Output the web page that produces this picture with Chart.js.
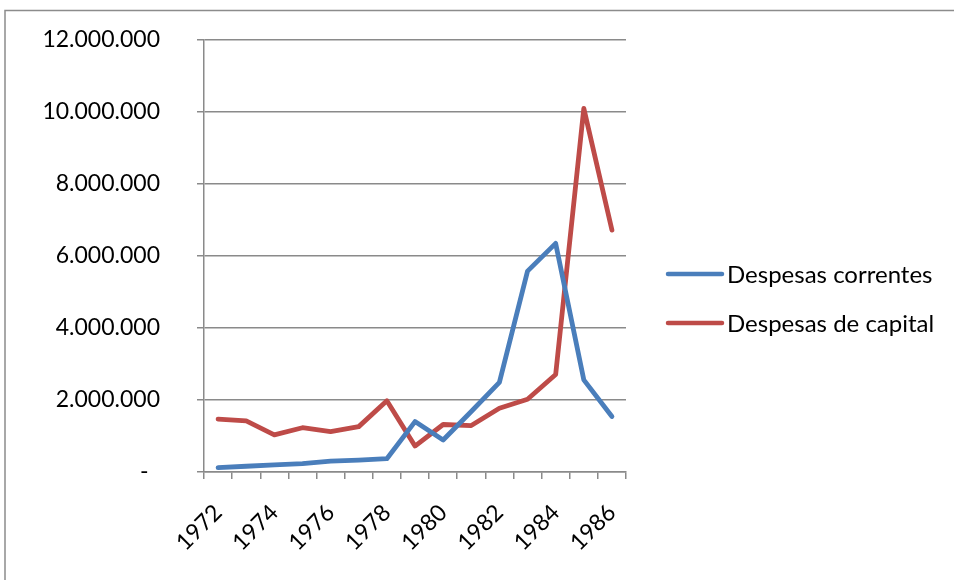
<!DOCTYPE html>
<html>
<head>
<meta charset="utf-8">
<script src="https://cdn.jsdelivr.net/npm/chart.js@4.4.1/dist/chart.umd.min.js"></script>
<style>
  html, body { margin: 0; padding: 0; background: #ffffff; }
  #wrap { width: 954px; height: 580px; position: relative; }
</style>
</head>
<body>
<div id="wrap"><canvas id="chart" width="954" height="580"></canvas></div>
<script>
// Years on the category axis
const years = ['1972', '1973', '1974', '1975', '1976', '1977', '1978', '1979',
               '1980', '1981', '1982', '1983', '1984', '1985', '1986'];

// Series values
const despesasCorrentes = [120000, 160000, 200000, 230000, 300000, 330000, 370000, 1400000,
                           890000, 1680000, 2490000, 5580000, 6350000, 2560000, 1540000];
const despesasCapital = [1470000, 1420000, 1030000, 1230000, 1120000, 1260000, 1980000, 720000,
                         1320000, 1290000, 1770000, 2020000, 2710000, 10100000, 6720000];

// Series names
const seriesNames = ['Despesas correntes', 'Despesas de capital'];

// Value axis range
const yMin = 0;
const yMax = 12000000;
const yStep = 2000000;

const FONT = 'Lato, "Open Sans", sans-serif';
const AXIS_GREY = '#8a8a8a';

function formatThousands(v) {
  if (v === 0) return '-\u2002';
  return Math.round(v).toString().replace(/\B(?=(\d{3})+(?!\d))/g, '.');
}

// White page and the frame around the chart
const framePlugin = {
  id: 'frame',
  beforeDraw(chart) {
    const ctx = chart.ctx;
    ctx.save();
    ctx.fillStyle = '#ffffff';
    ctx.fillRect(0, 0, chart.width, chart.height);
    ctx.strokeStyle = '#8c8c8c';
    ctx.lineWidth = 1.5;
    ctx.strokeRect(5, 10.5, 1000, 700);
    ctx.restore();
  }
};

// Legend on the right: line sample followed by the series name
const sideLegend = {
  id: 'sideLegend',
  afterDraw(chart) {
    const ctx = chart.ctx;
    const x0 = 668, x1 = 722, tx = 727;
    const rows = [274, 323];
    ctx.save();
    chart.data.datasets.forEach((ds, i) => {
      const y = rows[i];
      ctx.strokeStyle = ds.borderColor;
      ctx.lineWidth = 4.5;
      ctx.lineCap = 'round';
      ctx.beginPath();
      ctx.moveTo(x0, y);
      ctx.lineTo(x1, y);
      ctx.stroke();
      ctx.fillStyle = '#000000';
      ctx.font = '24px ' + FONT;
      ctx.textAlign = 'left';
      ctx.textBaseline = 'middle';
      ctx.fillText(ds.label, tx, y + 1);
    });
    ctx.restore();
  }
};

new Chart(document.getElementById('chart'), {
  type: 'line',
  data: {
    labels: years,
    datasets: [
      {
        label: seriesNames[0],
        data: despesasCorrentes,
        borderColor: '#4a7ebb',
        borderWidth: 4.8,
        pointRadius: 0,
        tension: 0,
        borderCapStyle: 'round',
        borderJoinStyle: 'round',
        fill: false
      },
      {
        label: seriesNames[1],
        data: despesasCapital,
        borderColor: '#be4b48',
        borderWidth: 4.8,
        pointRadius: 0,
        tension: 0,
        borderCapStyle: 'round',
        borderJoinStyle: 'round',
        fill: false
      }
    ]
  },
  options: {
    responsive: false,
    animation: false,
    devicePixelRatio: 1,
    layout: { autoPadding: false, padding: { left: 0, right: 328, top: 40, bottom: 0 } },
    plugins: {
      legend: { display: false },
      tooltip: { enabled: false }
    },
    scales: {
      x: {
        type: 'category',
        offset: true,
        afterFit(scale) { scale.height = 108; },
        grid: {
          offset: true,
          drawOnChartArea: false,
          drawTicks: true,
          tickLength: 7,
          color: AXIS_GREY,
          lineWidth: 1.5
        },
        border: { display: true, color: AXIS_GREY, width: 1.5 },
        ticks: {
          autoSkip: false,
          maxRotation: 45,
          minRotation: 45,
          padding: 20,
          color: '#000000',
          font: { family: FONT, size: 23 },
          callback(value, index) {
            return index % 2 === 0 ? this.getLabelForValue(value) : '';
          }
        }
      },
      y: {
        min: yMin,
        max: yMax,
        afterFit(scale) {
          scale.width = 204;
          scale.paddingTop = 0;
          scale.paddingBottom = 0;
        },
        grid: {
          drawTicks: true,
          tickLength: 7,
          color: AXIS_GREY,
          lineWidth: 1.5
        },
        border: { display: true, color: AXIS_GREY, width: 1.5 },
        ticks: {
          stepSize: yStep,
          padding: 37,
          color: '#000000',
          font: { family: FONT, size: 23 },
          callback(value) { return formatThousands(value); }
        }
      }
    }
  },
  plugins: [framePlugin, sideLegend]
});
</script>
</body>
</html>
